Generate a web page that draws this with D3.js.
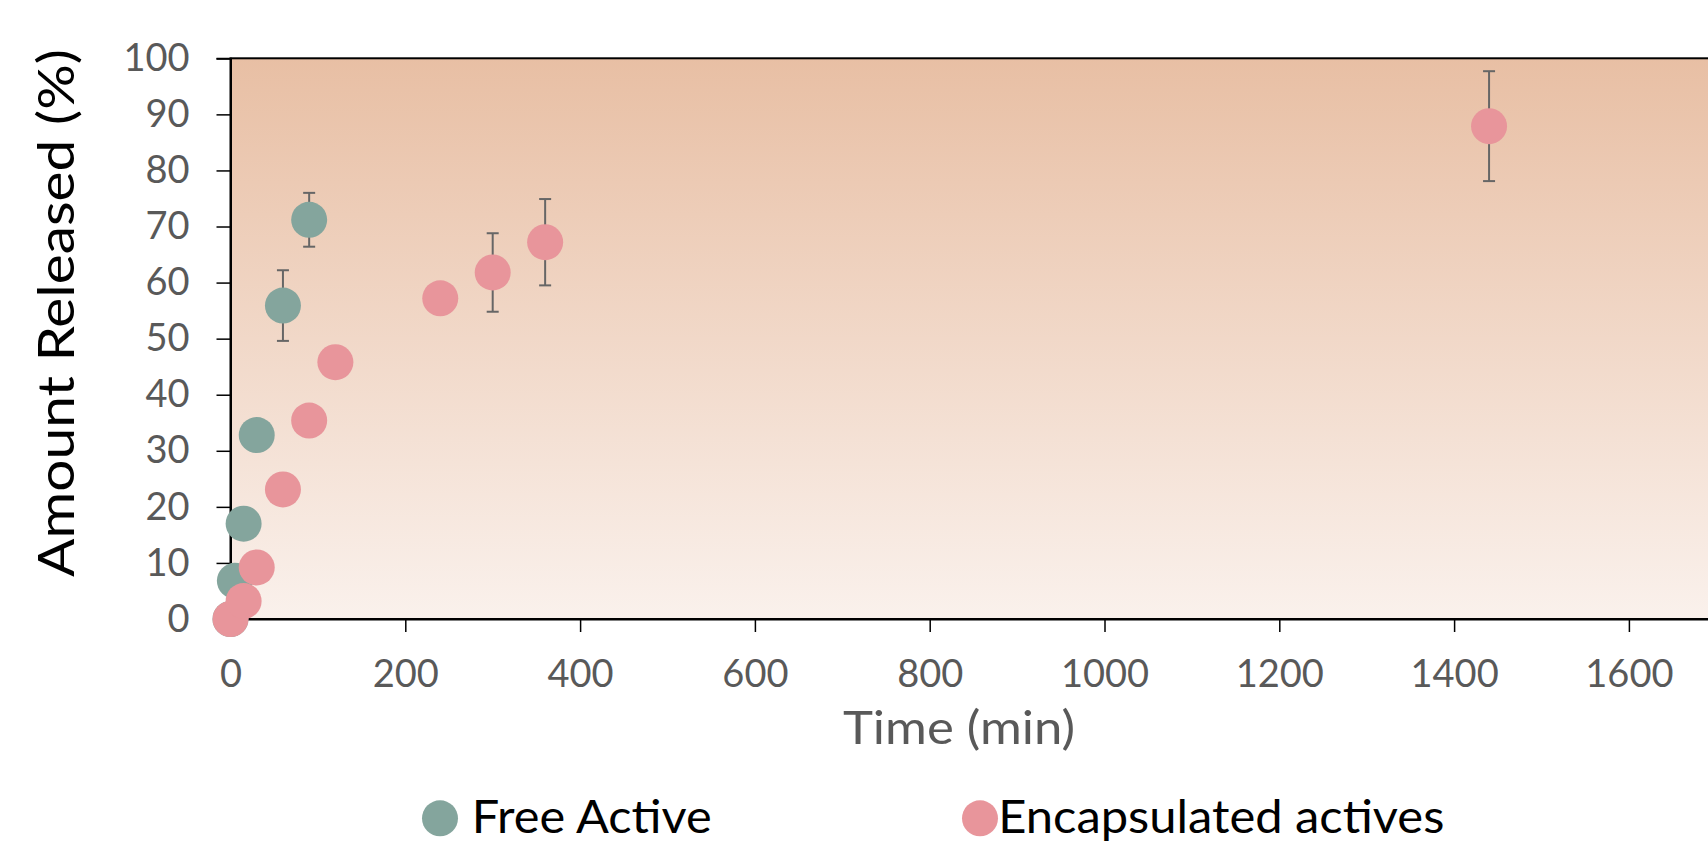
<!DOCTYPE html>
<html>
<head>
<meta charset="utf-8">
<script src="https://cdn.jsdelivr.net/npm/d3@7"></script>
<style>
  body { margin: 0; background: #fff; }
  svg { display: block; font-family: Lato, "Noto Sans", sans-serif; }
</style>
</head>
<body>
<div id="chart"></div>
<script>
// Release data
var freeTime = [0, 5, 15, 30, 60, 90];
var freeValue = [0, 6.8, 17.0, 32.8, 55.9, 71.2];
var freeError = [0, 0, 0, 0, 6.3, 4.8];

var encTime = [0, 15, 30, 60, 90, 120, 240, 300, 360, 1440];
var encValue = [0, 3.2, 9.2, 23.1, 35.4, 45.8, 57.2, 61.8, 67.2, 87.9];
var encError = [0, 0, 0, 0, 0, 0, 0, 7.0, 7.7, 9.8];

var xTicks = [0, 200, 400, 600, 800, 1000, 1200, 1400, 1600];
var yTicks = [0, 10, 20, 30, 40, 50, 60, 70, 80, 90, 100];

var seriesNames = ["Free Active", "Encapsulated actives"];
var seriesColors = ["#84a59d", "#e8959b"];

var width = 1708, height = 844;
var svg = d3.select("#chart").append("svg")
    .attr("width", width)
    .attr("height", height);

// plot area runs past the right edge of the picture
var x = d3.scaleLinear().domain([0, 1800]).range([230.5, 230.5 + 1800 * 0.874]);
var y = d3.scaleLinear().domain([0, 100]).range([619, 58.3]);

var defs = svg.append("defs");
var grad = defs.append("linearGradient")
    .attr("id", "bg")
    .attr("x1", 0).attr("y1", 0).attr("x2", 0).attr("y2", 1);
grad.append("stop").attr("offset", "0%").attr("stop-color", "#e8bfa4");
grad.append("stop").attr("offset", "100%").attr("stop-color", "#faf1ec");

svg.append("rect")
    .attr("x", x(0))
    .attr("y", y(100))
    .attr("width", x(1800) - x(0))
    .attr("height", y(0) - y(100))
    .attr("fill", "url(#bg)")
    .attr("stroke", "#000")
    .attr("stroke-width", 2);

// axes
var yAxis = d3.axisLeft(y).tickValues(yTicks).tickSize(14).tickPadding(27).tickFormat(d3.format("d"));
var xAxis = d3.axisBottom(x).tickValues(xTicks).tickSize(13).tickPadding(28).tickFormat(d3.format("d"));

var gy = svg.append("g")
    .attr("transform", "translate(" + x(0) + ",0)")
    .call(yAxis);
var gx = svg.append("g")
    .attr("transform", "translate(0," + y(0) + ")")
    .call(xAxis);

[gx, gy].forEach(function(g) {
    g.select(".domain").attr("stroke", "#000").attr("stroke-width", 2);
    g.selectAll(".tick line").attr("stroke", "#000").attr("stroke-width", 1.5);
    g.selectAll(".tick text")
        .attr("fill", "#595959")
        .style("font-size", "38px")
        .style("font-family", "Lato, sans-serif");
});

// build point lists
var free = freeTime.map(function(t, i) { return { t: t, v: freeValue[i], e: freeError[i], s: 0 }; });
var enc = encTime.map(function(t, i) { return { t: t, v: encValue[i], e: encError[i], s: 1 }; });

// error bars under the markers
var bars = free.concat(enc).filter(function(d) { return d.e > 0; });
var eb = svg.append("g").attr("stroke", "#666").attr("stroke-width", 2);
bars.forEach(function(d) {
    var cx = x(d.t);
    eb.append("line").attr("x1", cx).attr("x2", cx).attr("y1", y(d.v - d.e)).attr("y2", y(d.v + d.e));
    eb.append("line").attr("x1", cx - 6).attr("x2", cx + 6).attr("y1", y(d.v + d.e)).attr("y2", y(d.v + d.e));
    eb.append("line").attr("x1", cx - 6).attr("x2", cx + 6).attr("y1", y(d.v - d.e)).attr("y2", y(d.v - d.e));
});

[free, enc].forEach(function(data) {
    svg.append("g").selectAll("circle")
        .data(data)
        .enter().append("circle")
        .attr("cx", function(d) { return x(d.t); })
        .attr("cy", function(d) { return y(d.v); })
        .attr("r", 18)
        .attr("fill", function(d) { return seriesColors[d.s]; });
});

// axis titles
svg.append("text")
    .attr("x", 959)
    .attr("y", 744)
    .attr("text-anchor", "middle")
    .attr("fill", "#595959")
    .style("font-size", "47px")
    .attr("textLength", 232)
    .attr("lengthAdjust", "spacingAndGlyphs")
    .text("Time (min)");

svg.append("text")
    .attr("transform", "translate(74,313) rotate(-90)")
    .attr("text-anchor", "middle")
    .attr("fill", "#000")
    .style("font-size", "50px")
    .attr("textLength", 528)
    .attr("lengthAdjust", "spacingAndGlyphs")
    .text("Amount Released (%)");

// legend
var legendX = [440, 980];
var legendTextX = [471.7, 998.3];
var legendLen = [240, 446];
var legend = svg.append("g");
seriesNames.forEach(function(name, i) {
    legend.append("circle")
        .attr("cx", legendX[i])
        .attr("cy", 818.3)
        .attr("r", 18)
        .attr("fill", seriesColors[i]);
    legend.append("text")
        .attr("x", legendTextX[i])
        .attr("y", 833)
        .attr("fill", "#000")
        .style("font-size", "46px")
        .attr("textLength", legendLen[i])
        .attr("lengthAdjust", "spacingAndGlyphs")
        .text(name);
});
</script>
</body>
</html>
